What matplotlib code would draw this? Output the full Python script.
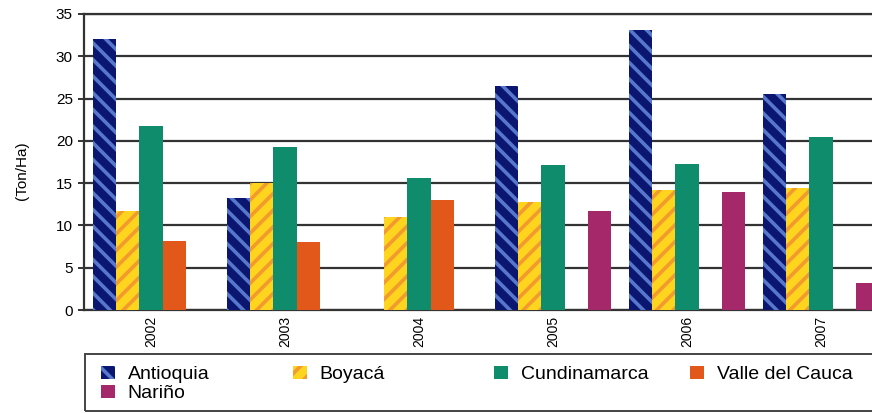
import numpy as np
import matplotlib.pyplot as plt
import matplotlib as mpl
from matplotlib.patches import Rectangle

years = ['2002', '2003', '2004', '2005', '2006', '2007']
departments = ['Antioquia', 'Boyacá', 'Cundinamarca', 'Valle del Cauca', 'Nariño']

antioquia = [32.0, 13.3, np.nan, 26.5, 33.1, 25.5]
boyaca = [11.7, 15.0, 11.0, 12.8, 14.2, 14.4]
cundinamarca = [21.7, 19.3, 15.6, 17.2, 17.3, 20.5]
valle = [8.2, 8.0, 13.0, np.nan, np.nan, np.nan]
narino = [np.nan, np.nan, np.nan, 11.7, 14.0, 3.2]

series = [antioquia, boyaca, cundinamarca, valle, narino]
colors = ['#0b1670', '#ffd41e', '#0e8c6c', '#e2571a', '#a5286b']
hatch_cols = ['#5677cc', '#f29a2e', None, None, None]
hatches = ['\\\\', '//', None, None, None]

mpl.rcParams['hatch.linewidth'] = 2.6
mpl.rcParams['font.family'] = ['Liberation Sans', 'DejaVu Sans']

W, H = 872, 413
fig = plt.figure(figsize=(W/100, H/100), dpi=100)
ax = fig.add_axes([84/W, 1-310/H, 804/W, 296/H])

x = np.arange(len(years))
w = 0.172
bars = []
for k, vals in enumerate(series):
    pos = x + (k - 2) * w
    if hatches[k]:
        b = ax.bar(pos, vals, w, color=colors[k], edgecolor=hatch_cols[k],
                   hatch=hatches[k], linewidth=0, label=departments[k], zorder=3)
    else:
        b = ax.bar(pos, vals, w, color=colors[k], linewidth=0,
                   label=departments[k], zorder=3)
    bars.append(b)

ax.set_xlim(-0.5, 5.5)
ax.set_ylim(0, 35)
ax.set_yticks(range(0, 36, 5))
ax.set_xticks(x)
ax.set_xticklabels(years, rotation=90, fontsize=10)
ax.tick_params(axis='y', labelsize=11, length=4, width=1.4, color='#333333', pad=4)
ax.tick_params(axis='x', length=0, pad=4)
ax.yaxis.grid(True, color='#333333', linewidth=1.6, zorder=0)
ax.set_axisbelow(True)
for s in ['left', 'bottom', 'top']:
    ax.spines[s].set_color('#333333')
    ax.spines[s].set_linewidth(1.6)
ax.spines['right'].set_visible(False)
ax.set_ylabel('(Ton/Ha)', fontsize=11)
ax.yaxis.set_label_coords(-0.068, 0.47)

# legend frame runs off the right edge like the source image
fig.patches.append(Rectangle((85/W, 2/H), 800/W, 57/H, transform=fig.transFigure,
                             fill=False, edgecolor='#444444', linewidth=1.4))

# legend laid out on a fixed grid, one legend per column
columns = [[0, 4], [1], [2], [3]]
col_x = [101, 293, 494, 690]
for idx, cx in zip(columns, col_x):
    fig.legend([bars[i] for i in idx], [departments[i] for i in idx],
               loc='upper left', bbox_to_anchor=(cx/W, 1-366/H),
               fontsize=14, frameon=False, borderpad=0, borderaxespad=0,
               handlelength=0.72, handleheight=0.62, handletextpad=0.65,
               labelspacing=0.1)

fig.savefig('out.png', dpi=100)
